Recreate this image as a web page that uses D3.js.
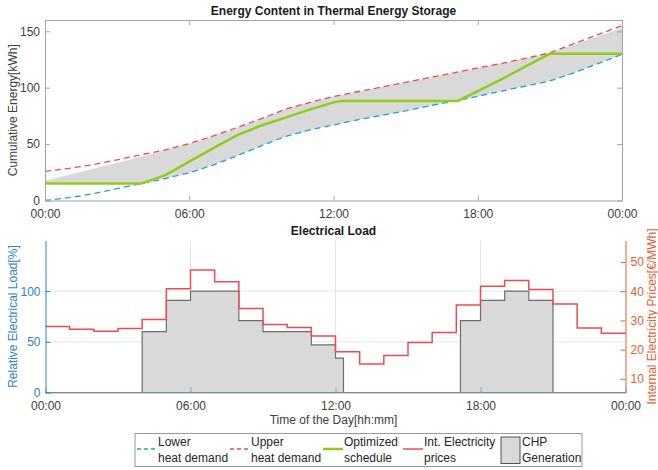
<!DOCTYPE html>
<html>
<head>
<meta charset="utf-8">
<script src="https://cdn.jsdelivr.net/npm/d3@7"></script>
<style>
  body { margin: 0; background: #fff; }
  svg { font-family: "Liberation Sans", Arial, sans-serif; display: block; }
</style>
</head>
<body>
<svg id="chart" width="658" height="470"></svg>
<script>
// ---- data ----
const hours = [0, 1, 2, 3, 4, 5, 6, 7, 8, 9, 10, 11, 12, 13, 14, 15, 16, 17, 18, 19, 20, 21, 22, 23, 24];
const lowerDemand = [0, 2.5, 6, 10.5, 15, 19.5, 24.5, 31.5, 39.7, 48.5, 56.8, 62.5, 67, 71.5, 75.5, 79.5, 84, 88, 92.4, 97, 101.5, 106, 113.2, 121.4, 129.5];
const upperDemand = [25.8, 28.5, 31.8, 36, 40.6, 44.8, 50.4, 57.2, 64.8, 72.5, 81, 86.8, 92.2, 96.4, 100.6, 104.8, 109, 113.2, 117.5, 121.5, 126, 130.9, 139, 147, 155];
const bandLow = [15, 15, 15, 15, 15, 19.5, 24.5, 31.5, 39.7, 48.5, 56.8, 62.5, 67, 71.5, 75.5, 79.5, 84, 88, 92.4, 97, 101.5, 106, 113.2, 121.4, 129.5];
const bandHigh = [17.5, 22.8, 28.1, 33.4, 38.7, 44.8, 50.4, 57.2, 64.8, 72.5, 81, 86.8, 92.2, 96.4, 100.6, 104.8, 109, 113.2, 117.5, 121.5, 126, 130.9, 138, 145.5, 153];

const scheduleHours = [0, 4, 5, 6, 7, 8, 9, 10, 11, 12, 12.33, 17.17, 18, 19, 20, 21, 24];
const schedule = [15, 15, 22.5, 34.5, 46.5, 58, 66.5, 73.5, 80.5, 87, 88.3, 88.3, 97, 107.5, 119, 130, 130];

const priceHours = [0, 1, 2, 3, 4, 5, 6, 7, 8, 9, 10, 11, 12, 13, 14, 15, 16, 17, 18, 19, 20, 21, 22, 23, 24];
const prices = [27.9, 27.0, 26.3, 27.2, 30.3, 40.9, 47.3, 43.3, 34.1, 28.6, 27.6, 24.7, 19.3, 15.1, 18.0, 22.4, 25.9, 35.3, 41.7, 43.7, 40.6, 35.6, 27.4, 25.6, 25.6];

const chpHours = [0, 4, 5, 6, 7, 8, 9, 10, 11, 12, 12.33, 17.17, 18, 19, 20, 21, 24];
const chpLoad = [0, 60, 91, 100, 100, 71, 60, 60, 47, 34, 0, 71, 91, 100, 91, 0, 0];

const timeTicks = [0, 6, 12, 18, 24];
const timeTickLabels = ["00:00", "06:00", "12:00", "18:00", "00:00"];
const energyTicks = [0, 50, 100, 150];
const loadTicks = [0, 50, 100];
const priceTicks = [10, 20, 30, 40, 50];

const legendItems = [
  { kind: "dash", color: "#1fa6c9", lines: ["Lower", "heat demand"] },
  { kind: "dash", color: "#ee4b50", lines: ["Upper", "heat demand"] },
  { kind: "solid", color: "#92cc1a", lines: ["Optimized", "schedule"] },
  { kind: "solid", color: "#ee4b50", lines: ["Int. Electricity", "prices"] },
  { kind: "patch", color: "#d9d9d9", lines: ["CHP", "Generation"] }
];

// ---- colours ----
const boxGray = "#a3a3a3";
const textDark = "#404040";
const leftBlue = "#2b84c6";
const rightOrange = "#e0612f";

const svg = d3.select("#chart");

function styleAxis(g, lineColor, textColor) {
  g.select(".domain").attr("stroke", lineColor);
  g.selectAll(".tick line").attr("stroke", lineColor);
  g.selectAll(".tick text").attr("fill", textColor).attr("font-size", 12);
}

// ================= top: energy content =================
const upper = { x0: 45, x1: 622, y0: 20, y1: 200.5 };
const xTop = d3.scaleLinear().domain([0, 24]).range([upper.x0, upper.x1]);
const yTop = d3.scaleLinear().domain([0, 160]).range([upper.y1, upper.y0]);

svg.append("path")
  .datum(hours.map((h, i) => [h, bandLow[i], bandHigh[i]]))
  .attr("fill", "#d9d9d9")
  .attr("d", d3.area().x((d) => xTop(d[0])).y0((d) => yTop(d[1])).y1((d) => yTop(d[2])));

const lineTop = d3.line().x((d) => xTop(d[0])).y((d) => yTop(d[1]));

svg.append("path")
  .datum(hours.map((h, i) => [h, lowerDemand[i]]))
  .attr("fill", "none").attr("stroke", "#1fa6c9").attr("stroke-width", 1.3)
  .attr("stroke-dasharray", "6,4").attr("d", lineTop);

svg.append("path")
  .datum(hours.map((h, i) => [h, upperDemand[i]]))
  .attr("fill", "none").attr("stroke", "#ee4b50").attr("stroke-width", 1.3)
  .attr("stroke-dasharray", "6,4").attr("d", lineTop);

svg.append("path")
  .datum(scheduleHours.map((h, i) => [h, schedule[i]]))
  .attr("fill", "none").attr("stroke", "#92cc1a").attr("stroke-width", 2.5)
  .attr("d", lineTop);

// box + ticks
svg.append("g").attr("transform", `translate(0,${upper.y1})`)
  .call(d3.axisBottom(xTop).tickValues(timeTicks).tickFormat((d, i) => timeTickLabels[i]).tickSize(-5).tickSizeOuter(0).tickPadding(9))
  .call((g) => styleAxis(g, boxGray, textDark));
svg.append("g").attr("transform", `translate(0,${upper.y0})`)
  .call(d3.axisTop(xTop).tickValues(timeTicks).tickFormat("").tickSize(-5).tickSizeOuter(0))
  .call((g) => styleAxis(g, boxGray, textDark));
svg.append("g").attr("transform", `translate(${upper.x0},0)`)
  .call(d3.axisLeft(yTop).tickValues(energyTicks).tickSize(-5).tickSizeOuter(0).tickPadding(5))
  .call((g) => styleAxis(g, boxGray, textDark));
svg.append("g").attr("transform", `translate(${upper.x1},0)`)
  .call(d3.axisRight(yTop).tickValues(energyTicks).tickFormat("").tickSize(-5).tickSizeOuter(0))
  .call((g) => styleAxis(g, boxGray, textDark));

svg.append("text")
  .attr("x", (upper.x0 + upper.x1) / 2).attr("y", 15)
  .attr("text-anchor", "middle").attr("font-size", 12).attr("font-weight", "bold")
  .attr("fill", "#1a1a1a")
  .text("Energy Content in Thermal Energy Storage");

svg.append("text")
  .attr("transform", `translate(12.5,${(upper.y0 + upper.y1) / 2}) rotate(-90)`)
  .attr("dy", "0.35em").attr("text-anchor", "middle").attr("font-size", 12)
  .attr("fill", textDark)
  .text("Cumulative Energy[kWh]");

// ================= bottom: electrical load =================
const lower = { x0: 45.5, x1: 625.5, y0: 240.5, y1: 392.5 };
const xBot = d3.scaleLinear().domain([0, 24]).range([lower.x0, lower.x1]);
const yLoad = d3.scaleLinear().domain([0, 150]).range([lower.y1, lower.y0]);
const yPrice = d3.scaleLinear().domain([5.3, 57.4]).range([lower.y1, lower.y0]);

// grid
svg.append("g").selectAll("line").data(loadTicks.filter((d) => d > 0)).join("line")
  .attr("x1", lower.x0).attr("x2", lower.x1)
  .attr("y1", (d) => yLoad(d)).attr("y2", (d) => yLoad(d))
  .attr("stroke", "#d9eaf5").attr("stroke-width", 1);
svg.append("g").selectAll("line").data(timeTicks.filter((d) => d > 0 && d < 24)).join("line")
  .attr("x1", (d) => xBot(d)).attr("x2", (d) => xBot(d))
  .attr("y1", lower.y0).attr("y2", lower.y1)
  .attr("stroke", "#e6e6e6").attr("stroke-width", 1);

// CHP generation
svg.append("path")
  .datum(chpHours.map((h, i) => [h, chpLoad[i]]))
  .attr("fill", "#d9d9d9").attr("stroke", "#6e6e6e").attr("stroke-width", 1.2)
  .attr("d", d3.area().curve(d3.curveStepAfter)
    .x((d) => xBot(d[0])).y0(yLoad(0)).y1((d) => yLoad(d[1])));

// prices
svg.append("path")
  .datum(priceHours.map((h, i) => [h, prices[i]]))
  .attr("fill", "none").attr("stroke", "#ee4b50").attr("stroke-width", 1.5)
  .attr("d", d3.line().curve(d3.curveStepAfter).x((d) => xBot(d[0])).y((d) => yPrice(d[1])));

// axes
svg.append("g").attr("transform", `translate(0,${lower.y1})`)
  .call(d3.axisBottom(xBot).tickValues(timeTicks).tickFormat((d, i) => timeTickLabels[i]).tickSize(-5).tickSizeOuter(0).tickPadding(9))
  .call((g) => styleAxis(g, "#87a7c4", textDark));
svg.append("g").attr("transform", `translate(${lower.x0},0)`)
  .call(d3.axisLeft(yLoad).tickValues(loadTicks).tickSize(-5).tickSizeOuter(0).tickPadding(5))
  .call((g) => styleAxis(g, leftBlue, leftBlue));
svg.append("g").attr("transform", `translate(${lower.x1},0)`)
  .call(d3.axisRight(yPrice).tickValues(priceTicks).tickSize(-5).tickSizeOuter(0).tickPadding(5))
  .call((g) => styleAxis(g, rightOrange, rightOrange));

svg.append("text")
  .attr("x", (lower.x0 + lower.x1) / 2 - 2).attr("y", 235)
  .attr("text-anchor", "middle").attr("font-size", 12).attr("font-weight", "bold")
  .attr("fill", "#1a1a1a")
  .text("Electrical Load");

svg.append("text")
  .attr("transform", `translate(12.5,${(lower.y0 + lower.y1) / 2}) rotate(-90)`)
  .attr("dy", "0.35em").attr("text-anchor", "middle").attr("font-size", 12)
  .attr("fill", leftBlue)
  .text("Relative Electrical Load[%]");

svg.append("text")
  .attr("transform", `translate(652,${(lower.y0 + lower.y1) / 2}) rotate(-90)`)
  .attr("dy", "0.35em").attr("text-anchor", "middle").attr("font-size", 12)
  .attr("fill", rightOrange)
  .text("Internal Electricity Prices[€/MWh]");

svg.append("text")
  .attr("x", (lower.x0 + lower.x1) / 2 - 2).attr("y", 424)
  .attr("text-anchor", "middle").attr("font-size", 12)
  .attr("fill", textDark)
  .text("Time of the Day[hh:mm]");

// ================= legend =================
const legend = svg.append("g").attr("transform", "translate(135,433.5)");
legend.append("rect")
  .attr("width", 447).attr("height", 33)
  .attr("fill", "#fff").attr("stroke", "#9a9a9a").attr("stroke-width", 1);

const itemX = [2, 95, 188, 268, 366];
const items = legend.selectAll("g.item").data(legendItems).join("g")
  .attr("class", "item")
  .attr("transform", (d, i) => `translate(${itemX[i]},0)`);

items.each(function (d) {
  const g = d3.select(this);
  if (d.kind === "patch") {
    g.append("rect").attr("x", 0).attr("y", 3.5).attr("width", 19).attr("height", 26.5)
      .attr("fill", d.color).attr("stroke", "#555").attr("stroke-width", 1);
  } else {
    g.append("line").attr("x1", 0).attr("x2", 20).attr("y1", 15.5).attr("y2", 15.5)
      .attr("stroke", d.color)
      .attr("stroke-width", d.color === "#92cc1a" ? 2.5 : 1.5)
      .attr("stroke-dasharray", d.kind === "dash" ? "4,3" : null);
  }
  const t = g.append("text").attr("font-size", 12).attr("fill", "#262626");
  d.lines.forEach((line, k) => {
    t.append("tspan").attr("x", 21).attr("y", 12 + k * 16.5).text(line);
  });
});
</script>
</body>
</html>
